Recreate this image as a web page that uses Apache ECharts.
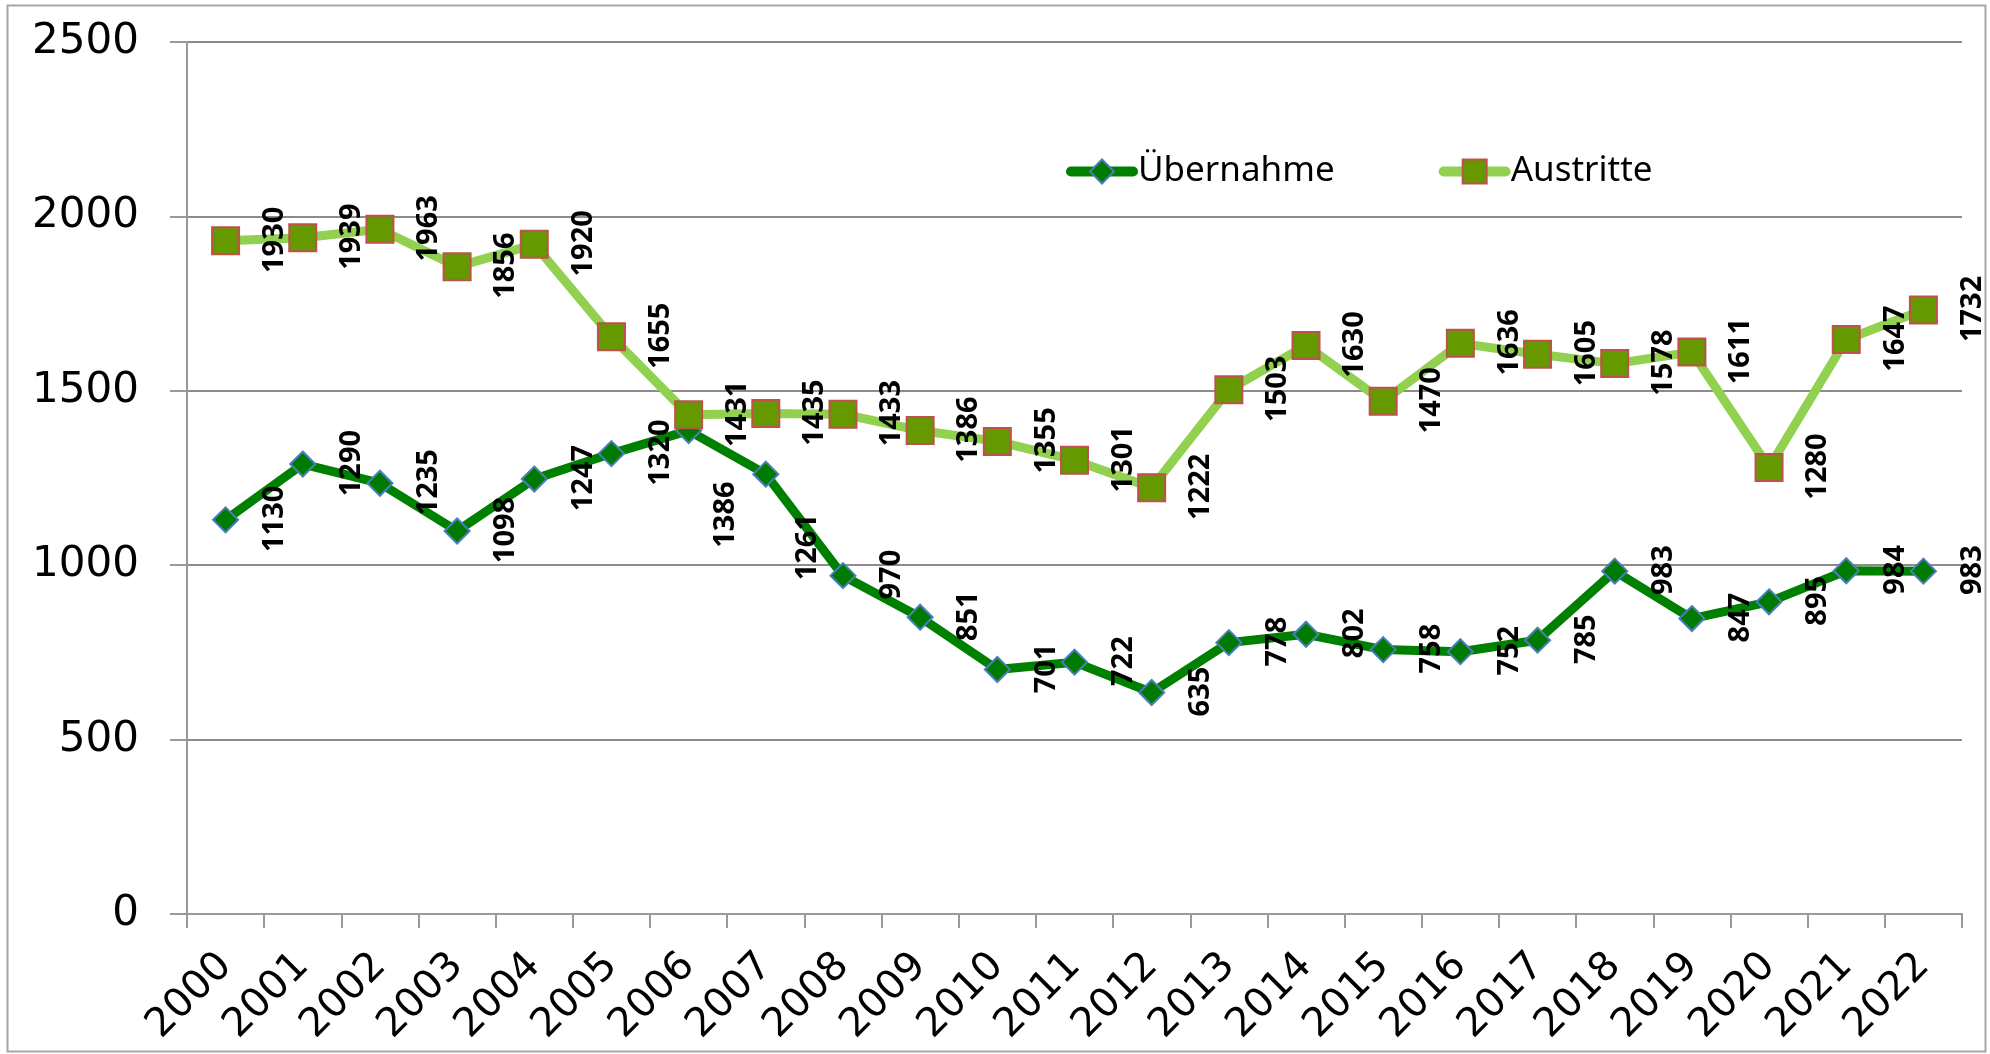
<!DOCTYPE html>
<html>
<head>
<meta charset="utf-8">
<title>Übernahme / Austritte</title>
<script src="https://cdn.jsdelivr.net/npm/echarts@6/dist/echarts.min.js"></script>
<style>
  html, body { margin: 0; padding: 0; background: #fff; }
  #main { width: 1990px; height: 1054px; }
</style>
</head>
<body>
<div id="main"></div>
<script>
// Jahre
const years = ['2000', '2001', '2002', '2003', '2004', '2005', '2006', '2007', '2008', '2009', '2010', '2011',
  '2012', '2013', '2014', '2015', '2016', '2017', '2018', '2019', '2020', '2021', '2022']
// Übernahme
const uebernahme = [1130, 1290, 1235, 1098, 1247, 1320, 1386, 1261, 970, 851, 701, 722,
  635, 778, 802, 758, 752, 785, 983, 847, 895, 984, 983]
// Austritte
const austritte = [1930, 1939, 1963, 1856, 1920, 1655, 1431, 1435, 1433, 1386, 1355, 1301,
  1222, 1503, 1630, 1470, 1636, 1605, 1578, 1611, 1280, 1647, 1732]
// y-Achse
const yMin = 0
const yMax = 2500
const yStep = 500

const chart = echarts.init(document.getElementById('main'))

const diamondSize = 25
const squareSize = 27
// Beschriftung sitzt rechts neben dem Punkt, um 90° gedreht
const labelDx = 50
// zwei Beschriftungen wurden im Original von Hand verschoben (2006, 2007)
const movedLabels = { 6: [38, 85], 7: [43, 74] }

function labelPos (size, dx, dy) {
  return [size / 2 + dx, size / 2 + dy]
}

function buildData (values, size, moved) {
  return values.map((v, i) => {
    const m = moved && moved[i]
    if (!m) return v
    return { value: v, label: { position: labelPos(size, m[0], m[1]) } }
  })
}

const labelStyle = {
  show: true,
  rotate: 90,
  align: 'center',
  verticalAlign: 'middle',
  fontFamily: '"Noto Sans", sans-serif',
  fontWeight: 'bold',
  fontSize: 29,
  color: '#000'
}

const option = {
  animation: false,
  backgroundColor: '#fff',
  graphic: [
    {
      type: 'rect',
      shape: { x: 7.5, y: 5.5, width: 1978, height: 1046 },
      style: { fill: 'none', stroke: '#a6a6a6', lineWidth: 2 },
      silent: true
    }
  ],
  grid: {
    left: 187,
    right: 28,
    top: 42,
    bottom: 140,
    outerBoundsMode: 'none'
  },
  legend: {
    left: 1061,
    top: 149,
    itemWidth: 62,
    itemHeight: 30,
    itemGap: 104,
    lineStyle: { width: 10, cap: 'round' },
    textStyle: {
      fontFamily: '"Noto Sans", sans-serif',
      fontSize: 35,
      color: '#000',
      padding: [0, 0, 0, 0]
    },
    data: ['Übernahme', 'Austritte']
  },
  xAxis: {
    type: 'category',
    data: years,
    boundaryGap: true,
    axisLine: { lineStyle: { color: '#9a9a9a', width: 2 } },
    axisTick: { show: true, length: 14, lineStyle: { color: '#9a9a9a', width: 2 } },
    axisLabel: {
      interval: 0,
      rotate: 45,
      margin: 46,
      fontFamily: '"DejaVu Sans", sans-serif',
      fontSize: 40,
      color: '#000'
    }
  },
  yAxis: {
    type: 'value',
    min: yMin,
    max: yMax,
    interval: yStep,
    axisLine: { show: true, lineStyle: { color: '#9a9a9a', width: 2 } },
    axisTick: { show: true, length: 17, lineStyle: { color: '#9a9a9a', width: 2 } },
    splitLine: { lineStyle: { color: '#8c8c8c', width: 2 } },
    axisLabel: {
      margin: 48,
      formatter: v => String(v),
      fontFamily: '"DejaVu Sans", sans-serif',
      fontSize: 42,
      color: '#000'
    }
  },
  series: [
    {
      name: 'Übernahme',
      type: 'line',
      data: buildData(uebernahme, diamondSize, movedLabels),
      symbol: 'diamond',
      symbolSize: diamondSize,
      lineStyle: { color: '#008000', width: 9 },
      itemStyle: { color: '#007a00', borderColor: '#4a7ebb', borderWidth: 2 },
      label: Object.assign({ position: labelPos(diamondSize, labelDx, 0) }, labelStyle),
      z: 2
    },
    {
      name: 'Austritte',
      type: 'line',
      data: buildData(austritte, squareSize, null),
      symbol: 'rect',
      symbolSize: squareSize,
      lineStyle: { color: '#92d050', width: 9 },
      itemStyle: { color: '#669900', borderColor: '#c0504d', borderWidth: 2 },
      label: Object.assign({ position: labelPos(squareSize, labelDx, 0) }, labelStyle),
      z: 3
    }
  ]
}

chart.setOption(option)
</script>
</body>
</html>
